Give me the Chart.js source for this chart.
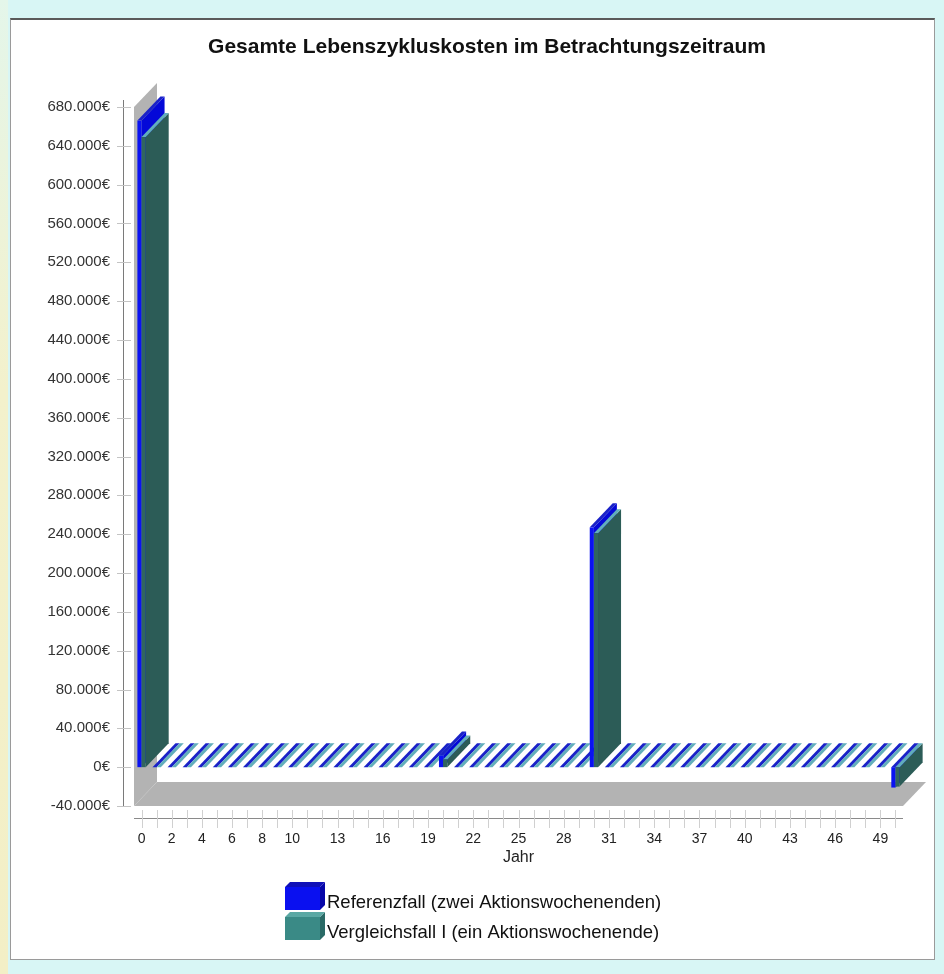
<!DOCTYPE html>
<html lang="de">
<head>
<meta charset="utf-8">
<title>Gesamte Lebenszykluskosten im Betrachtungszeitraum</title>
<script src="https://cdn.jsdelivr.net/npm/chart.js@4.4.1/dist/chart.umd.min.js"></script>
<style>
  html, body { margin: 0; padding: 0; }
  body { background: #d8f6f5; width: 944px; height: 974px; overflow: hidden; }
  #wrap { position: relative; width: 944px; height: 974px; }
  #edge { position: absolute; left: 0; top: 0; width: 8px; height: 974px;
          background: linear-gradient(#e4f6ea, #f3f1cc 40%, #f3efc6); }
  #panel { position: absolute; left: 10px; top: 18px; width: 923px; height: 939px;
           background: #ffffff; border: 1px solid #9a9a9a; border-top: 2px solid #5a5a5a; }
  #c { position: absolute; left: 0; top: 0; }
</style>
</head>
<body>
<div id="wrap">
  <div id="edge"></div>
  <div id="panel"></div>
  <canvas id="c" width="944" height="974"></canvas>
</div>
<script>
// Betrachtungszeitraum: Jahre 0 bis 50
const years = [0, 1, 2, 3, 4, 5, 6, 7, 8, 9, 10, 11, 12, 13, 14, 15, 16, 17, 18, 19, 20,
               21, 22, 23, 24, 25, 26, 27, 28, 29, 30, 31, 32, 33, 34, 35, 36, 37, 38, 39, 40,
               41, 42, 43, 44, 45, 46, 47, 48, 49, 50];

// Jahre, deren Beschriftung auf der x-Achse erscheint
const shownYears = [0, 2, 4, 6, 8, 10, 13, 16, 19, 22, 25, 28, 31, 34, 37, 40, 43, 46, 49];

// Lebenszykluskosten je Jahr in Euro
const referenzfall = [666000, 0, 0, 0, 0, 0, 0, 0, 0, 0, 0, 0, 0, 0, 0, 0, 0, 0, 0, 0, 12000,
                      0, 0, 0, 0, 0, 0, 0, 0, 0, 247000, 0, 0, 0, 0, 0, 0, 0, 0, 0, 0,
                      0, 0, 0, 0, 0, 0, 0, 0, 0, -21000];
const vergleichsfall = [649000, 0, 0, 0, 0, 0, 0, 0, 0, 0, 0, 0, 0, 0, 0, 0, 0, 0, 0, 0, 8000,
                        0, 0, 0, 0, 0, 0, 0, 0, 0, 241000, 0, 0, 0, 0, 0, 0, 0, 0, 0, 0,
                        0, 0, 0, 0, 0, 0, 0, 0, 0, -20000];

const seriesNames = ['Referenzfall (zwei Aktionswochenenden)', 'Vergleichsfall I (ein Aktionswochenende)'];
const chartTitle = 'Gesamte Lebenszykluskosten im Betrachtungszeitraum';

// y-Achse
const yMin = -40000, yMax = 680000, yStep = 40000;

// Farben der Quaderflächen: Vorderseite, Oberseite, rechte Seite
const faces = [
  { front: '#0a12f2', top: '#1a22c8', side: '#0408d8' },
  { front: '#30655f', top: '#62aebb', side: '#2c5c57' }
];
const legendFaces = [
  { front: '#0a10f0', top: '#1010b8', side: '#0606a8' },
  { front: '#3a8a86', top: '#5aa8a4', side: '#2a6a66' }
];
const wallColor = '#b3b3b3';
const DX = 23, DY = 24;   // Tiefenversatz der 3D-Darstellung

const FONT = "'Liberation Sans', Arial, sans-serif";

function euro(v) {
  const s = Math.abs(v).toString().replace(/\B(?=(\d{3})+(?!\d))/g, '.');
  return (v < 0 ? '-' : '') + s + '€';
}

function poly(ctx, pts, color) {
  ctx.beginPath();
  ctx.moveTo(pts[0][0], pts[0][1]);
  for (let k = 1; k < pts.length; k++) ctx.lineTo(pts[k][0], pts[k][1]);
  ctx.closePath();
  ctx.fillStyle = color;
  ctx.fill();
}

function box(ctx, left, right, top, bottom, c, dx, dy) {
  // rechte Seite, Oberseite, Vorderseite
  if (bottom > top) {
    poly(ctx, [[right, top], [right + dx, top - dy], [right + dx, bottom - dy], [right, bottom]], c.side);
  }
  poly(ctx, [[left, top], [left + dx, top - dy], [right + dx, top - dy], [right, top]], c.top);
  if (bottom > top) {
    ctx.fillStyle = c.front;
    ctx.fillRect(left, top, right - left, bottom - top);
  }
}

// Zeichnet Rückwand, Boden und die Balken als Quader
const threeD = {
  id: 'threeD',
  beforeDatasetsDraw(chart) {
    const { ctx, chartArea: a } = chart;
    ctx.save();
    poly(ctx, [[a.left, a.top], [a.left + DX, a.top - DY], [a.left + DX, a.bottom - DY], [a.left, a.bottom]], wallColor);
    poly(ctx, [[a.left, a.bottom], [a.left + DX, a.bottom - DY], [a.right + DX, a.bottom - DY], [a.right, a.bottom]], wallColor);

    const metas = chart.data.datasets.map((d, i) => chart.getDatasetMeta(i));
    const n = chart.data.labels.length;
    for (let j = 0; j < n; j++) {
      metas.forEach((meta, i) => {
        const el = meta.data[j];
        if (!el) return;
        const p = el.getProps(['x', 'y', 'base', 'width'], true);
        const left = p.x - p.width / 2, right = p.x + p.width / 2;
        const top = Math.min(p.y, p.base), bottom = Math.max(p.y, p.base);
        box(ctx, left, right, top, bottom, faces[i], DX, DY);
      });
    }
    ctx.restore();
    return false;
  },
  afterDraw(chart) {
    const { ctx, chartArea: a, scales } = chart;
    ctx.save();
    // Titel
    ctx.font = 'bold 21px ' + FONT;
    ctx.fillStyle = '#111';
    ctx.textAlign = 'center';
    ctx.textBaseline = 'middle';
    ctx.fillText(chartTitle, 487, 47);

    // y-Achse
    const ax = a.left - 11;
    ctx.strokeStyle = '#7a7a7a';
    ctx.lineWidth = 1;
    ctx.beginPath();
    ctx.moveTo(ax + 0.5, a.top - 7);
    ctx.lineTo(ax + 0.5, a.bottom);
    ctx.stroke();
    ctx.strokeStyle = '#c4c4c4';
    scales.y.ticks.forEach(t => {
      const py = Math.round(scales.y.getPixelForValue(t.value)) + 0.5;
      ctx.beginPath();
      ctx.moveTo(ax - 6, py);
      ctx.lineTo(ax + 8, py);
      ctx.stroke();
    });
    // x-Achse
    const ay = a.bottom + 12;
    ctx.strokeStyle = '#8a8a8a';
    ctx.beginPath();
    ctx.moveTo(a.left, ay + 0.5);
    ctx.lineTo(a.right, ay + 0.5);
    ctx.stroke();
    ctx.strokeStyle = '#d0d0d0';
    const xs = scales.x;
    for (let j = 0; j < chart.data.labels.length; j++) {
      const px = Math.round(xs.getPixelForValue(j)) + 0.5;
      ctx.beginPath();
      ctx.moveTo(px, ay - 8);
      ctx.lineTo(px, ay + 10);
      ctx.stroke();
    }

    // Legende
    const lx = 285, ly = [887, 917];
    ctx.font = '18.5px ' + FONT;
    ctx.textBaseline = 'middle';
    ctx.textAlign = 'left';
    chart.data.datasets.forEach((ds, i) => {
      const y0 = ly[i];
      box(ctx, lx, lx + 35, y0, y0 + 23, legendFaces[i], 5, 5);
      ctx.fillStyle = '#111';
      ctx.fillText(ds.label, lx + 42, y0 + 16);
    });
    ctx.restore();
  }
};

new Chart(document.getElementById('c'), {
  type: 'bar',
  data: {
    labels: years.map(String),
    datasets: [
      { label: seriesNames[0], data: referenzfall, backgroundColor: faces[0].front },
      { label: seriesNames[1], data: vergleichsfall, backgroundColor: faces[1].front }
    ]
  },
  options: {
    responsive: false,
    animation: false,
    layout: { padding: { left: 30, right: 41, top: 107, bottom: 107 } },
    datasets: { bar: { categoryPercentage: 0.55, barPercentage: 1 } },
    plugins: {
      legend: { display: false },
      tooltip: { enabled: false },
      title: { display: false }
    },
    scales: {
      x: {
        offset: true,
        grid: { display: false, drawTicks: false },
        border: { display: false },
        ticks: {
          autoSkip: false, maxRotation: 0, padding: 25, color: '#222',
          font: { family: FONT, size: 14 },
          callback: (v, i) => shownYears.includes(years[i]) ? String(years[i]) : ''
        },
        title: { display: true, text: 'Jahr', color: '#222', padding: { top: 0, bottom: 0 }, font: { family: FONT, size: 16 } },
        afterFit: s => { s.height = 61; }
      },
      y: {
        min: yMin, max: yMax,
        grid: { display: false, drawTicks: false },
        border: { display: false },
        ticks: { stepSize: yStep, padding: 24, color: '#333', font: { family: FONT, size: 15 }, callback: v => euro(v) },
        afterFit: s => { s.width = 104; }
      }
    }
  },
  plugins: [threeD]
});
</script>
</body>
</html>
